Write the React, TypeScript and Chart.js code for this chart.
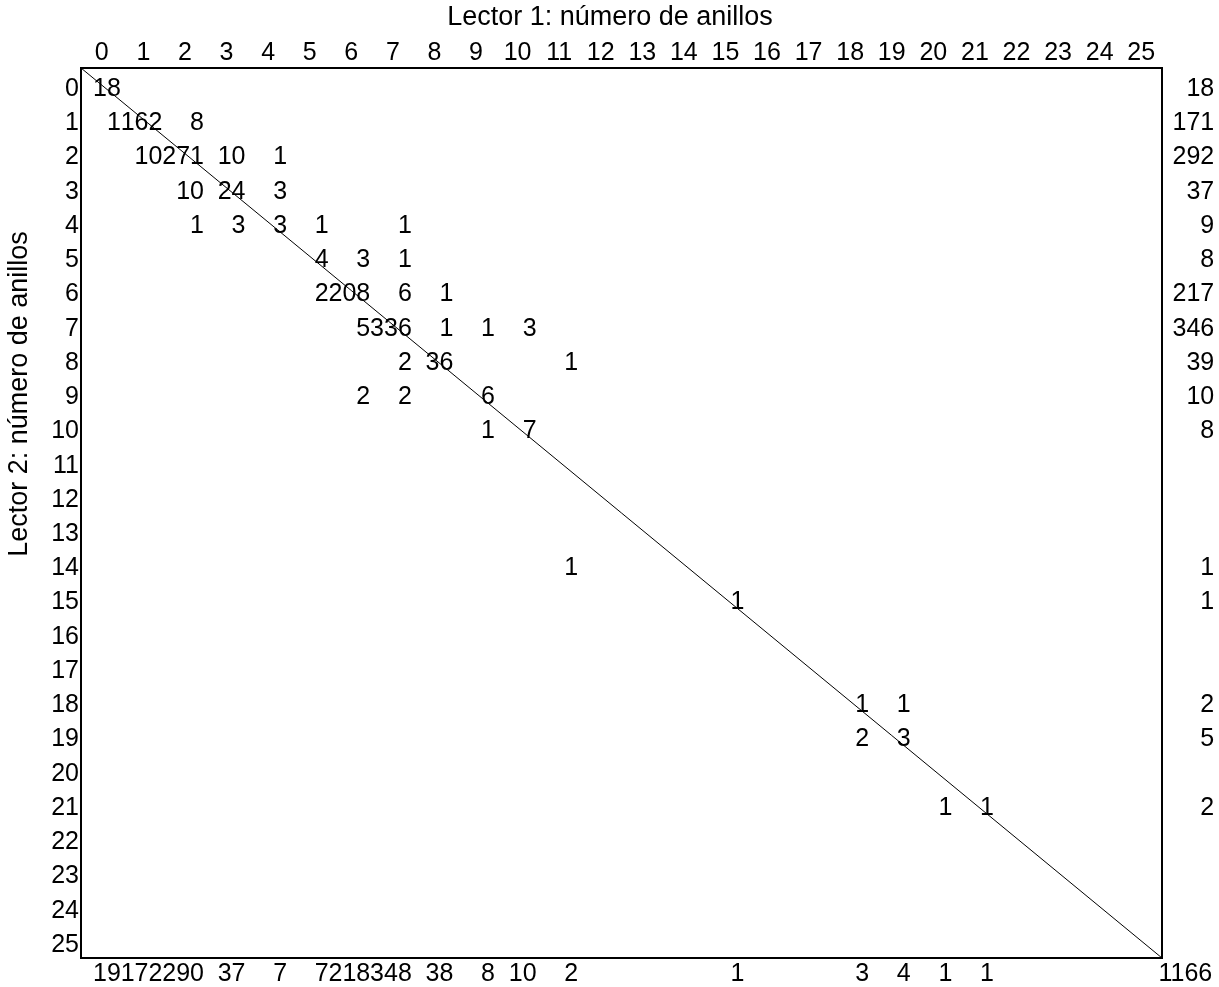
import React, { useEffect, useRef } from "react";
import { Chart, registerables } from "chart.js";

Chart.register(...registerables);

// Tick labels (ages 0..25)
const AGE_TICKS = [0, 1, 2, 3, 4, 5, 6, 7, 8, 9, 10, 11, 12, 13, 14, 15, 16, 17, 18, 19, 20, 21, 22, 23, 24, 25];

// Cell counts: Lector 1 (x), Lector 2 (y), count
const CELL_LECTOR1 = [0, 0, 1, 2, 1, 2, 3, 4, 2, 3, 4, 2, 3, 4, 5, 7, 5, 6, 7, 5, 6, 7, 8, 6, 7, 8, 9, 10, 7, 8, 11, 6, 7, 9, 9, 10, 11, 15, 18, 19, 18, 19, 20, 21];
const CELL_LECTOR2 = [0, 1, 1, 1, 2, 2, 2, 2, 3, 3, 3, 4, 4, 4, 4, 4, 5, 5, 5, 6, 6, 6, 6, 7, 7, 7, 7, 7, 8, 8, 8, 9, 9, 9, 10, 10, 14, 15, 18, 18, 19, 19, 21, 21];
const CELL_COUNTS = [18, 1, 162, 8, 10, 271, 10, 1, 10, 24, 3, 1, 3, 3, 1, 1, 4, 3, 1, 2, 208, 6, 1, 5, 336, 1, 1, 3, 2, 36, 1, 2, 2, 6, 1, 7, 1, 1, 1, 1, 2, 3, 1, 1];

// Row totals (Lector 2)
const ROW_TOTAL_AGES = [0, 1, 2, 3, 4, 5, 6, 7, 8, 9, 10, 14, 15, 18, 19, 21];
const ROW_TOTALS = [18, 171, 292, 37, 9, 8, 217, 346, 39, 10, 8, 1, 1, 2, 5, 2];

// Column totals (Lector 1)
const COL_TOTAL_AGES = [0, 1, 2, 3, 4, 5, 6, 7, 8, 9, 10, 11, 15, 18, 19, 20, 21];
const COL_TOTALS = [19, 172, 290, 37, 7, 7, 218, 348, 38, 8, 10, 2, 1, 3, 4, 1, 1];

const GRAND_TOTAL = 1166;

const X_TITLE = "Lector 1: número de anillos";
const Y_TITLE = "Lector 2: número de anillos";

const FONT = '"Liberation Sans", Arial, Helvetica, sans-serif';

export default function App() {
  const canvasRef = useRef<HTMLCanvasElement | null>(null);

  useEffect(() => {
    document.body.style.margin = "0";
    const canvas = canvasRef.current;
    if (!canvas) return;

    const cellData = CELL_COUNTS.map((c, i) => ({ x: CELL_LECTOR1[i], y: CELL_LECTOR2[i], n: c }));

    const textPlugin = {
      id: "ageBiasText",
      afterDraw(chart: any) {
        const { ctx, chartArea, scales } = chart;
        const xs = scales.x;
        const ys = scales.y;
        const numFont = `25px ${FONT}`;
        const dx = 19; // right-alignment offset of numbers
        const dy = 4;
        ctx.save();
        // frame
        ctx.strokeStyle = "#000";
        ctx.lineWidth = 2;
        ctx.strokeRect(chartArea.left, chartArea.top, chartArea.right - chartArea.left, chartArea.bottom - chartArea.top);

        ctx.fillStyle = "#000";
        ctx.font = numFont;
        ctx.textBaseline = "middle";

        // top tick labels
        ctx.textAlign = "center";
        AGE_TICKS.forEach((t) => {
          ctx.fillText(String(t), xs.getPixelForValue(t), chartArea.top - 15);
        });
        // left tick labels
        ctx.textAlign = "right";
        AGE_TICKS.forEach((t) => {
          ctx.fillText(String(t), chartArea.left - 2, ys.getPixelForValue(t) + dy);
        });

        // cell counts
        ctx.textAlign = "right";
        const ds = chart.data.datasets[1].data as any[];
        ds.forEach((p) => {
          ctx.fillText(String(p.n), xs.getPixelForValue(p.x) + dx, ys.getPixelForValue(p.y) + dy);
        });

        // row totals
        ROW_TOTAL_AGES.forEach((r, i) => {
          ctx.fillText(String(ROW_TOTALS[i]), xs.getPixelForValue(26.3) + dx, ys.getPixelForValue(r) + dy);
        });
        // column totals
        COL_TOTAL_AGES.forEach((c, i) => {
          ctx.fillText(String(COL_TOTALS[i]), xs.getPixelForValue(c) + dx, ys.getPixelForValue(25.85) + dy);
        });
        ctx.fillText(String(GRAND_TOTAL), xs.getPixelForValue(26.25) + dx, ys.getPixelForValue(25.85) + dy);

        // titles
        ctx.font = `27px ${FONT}`;
        ctx.textAlign = "center";
        ctx.fillText(X_TITLE, 610, 18);
        ctx.save();
        ctx.translate(20, 394);
        ctx.rotate(-Math.PI / 2);
        ctx.fillText(Y_TITLE, 0, 0);
        ctx.restore();

        ctx.restore();
      },
    };

    const chart = new Chart(canvas, {
      type: "scatter",
      data: {
        datasets: [
          {
            label: "diagonal",
            data: [
              { x: -0.5, y: -0.5 },
              { x: 25.5, y: 25.5 },
            ],
            showLine: true,
            borderColor: "#000",
            borderWidth: 1,
            pointRadius: 0,
          },
          {
            label: "cells",
            data: cellData,
            pointRadius: 0,
            showLine: false,
          },
        ],
      },
      options: {
        responsive: false,
        animation: false,
        layout: { padding: { left: 81, top: 68, right: 57, bottom: 29 } },
        scales: {
          x: { type: "linear", min: -0.5, max: 25.5, display: false },
          y: { type: "linear", min: -0.5, max: 25.5, reverse: true, display: false },
        },
        plugins: {
          legend: { display: false },
          tooltip: { enabled: false },
        },
      },
      plugins: [textPlugin],
    });

    return () => {
      chart.destroy();
    };
  }, []);

  return (
    <div style={{ width: 1219, height: 987, background: "#fff" }}>
      <canvas ref={canvasRef} width={1219} height={987} style={{ display: "block" }} />
    </div>
  );
}
